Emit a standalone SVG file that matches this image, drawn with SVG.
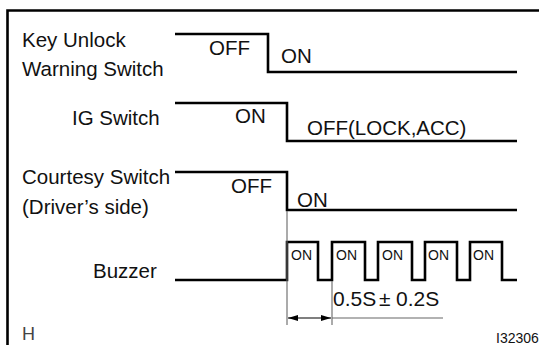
<svg xmlns="http://www.w3.org/2000/svg" width="539" height="345" viewBox="0 0 539 345">
<defs>
<style>
.t{font-family:"Liberation Sans",Arial,sans-serif;font-size:20.5px;fill:#111}
.s{font-family:"Liberation Sans",Arial,sans-serif;font-size:14px;fill:#111}
.sig{fill:none;stroke:#000;stroke-width:2.6;stroke-linejoin:miter}
.thin{fill:none;stroke:#666;stroke-width:1.1}
</style>
<marker id="ah" viewBox="0 0 10 6" refX="10" refY="3" markerWidth="10" markerHeight="6" markerUnits="userSpaceOnUse" orient="auto-start-reverse">
<path d="M0,0 L10,3 L0,6 Z" fill="#000"/>
</marker>
</defs>
<rect width="539" height="345" fill="#fff"/>
<path d="M7.5,345 V10.5 H539" fill="none" stroke="#000" stroke-width="2.6"/>

<g id="key-unlock">
<text class="t" x="22" y="47">Key Unlock</text>
<text class="t" x="22" y="76">Warning Switch</text>
<path class="sig" d="M175,34 H268 V72 H517"/>
<text class="t" x="209" y="55">OFF</text>
<text class="t" x="281" y="63">ON</text>
</g>

<g id="ig-switch">
<text class="t" x="72" y="125">IG Switch</text>
<path class="sig" d="M175,103 H287 V141 H517"/>
<text class="t" x="235" y="123">ON</text>
<text class="t" x="307" y="135">OFF(LOCK,ACC)</text>
</g>

<g id="courtesy">
<text class="t" x="22" y="184">Courtesy Switch</text>
<text class="t" x="22" y="214">(Driver’s side)</text>
<path class="sig" d="M175,172 H287 V210 H517"/>
<text class="t" x="231" y="193">OFF</text>
<text class="t" x="297" y="207">ON</text>
</g>

<g id="buzzer">
<text class="t" x="93" y="278">Buzzer</text>
<path class="sig" d="M175,280 H287 V242 H318 V280 H332 V242 H365 V280 H378 V242 H412 V280 H425 V242 H457 V280 H470 V242 H502 V280 H517"/>
<text class="s" x="291" y="260">ON</text>
<text class="s" x="336" y="260">ON</text>
<text class="s" x="382" y="260">ON</text>
<text class="s" x="428" y="260">ON</text>
<text class="s" x="473" y="260">ON</text>
</g>

<g id="connectors">
<path class="thin" d="M287,211 V325"/>
<path class="thin" d="M332,281 V325"/>
<path class="thin" d="M332,318 H443"/>
<line x1="288" y1="318" x2="331" y2="318" stroke="#000" stroke-width="1.1" marker-start="url(#ah)" marker-end="url(#ah)"/>
</g>

<g id="timing-label">
<text class="t" x="333" y="306" style="font-size:21px"><tspan>0.5S</tspan><tspan x="379">±</tspan><tspan x="396">0.2S</tspan></text>
</g>

<text x="22" y="340" style="font-family:'Liberation Sans',Arial,sans-serif;font-size:18px;fill:#444">H</text>
<text x="496" y="343" style="font-family:'Liberation Sans',Arial,sans-serif;font-size:14px;fill:#111">I32306</text>
</svg>
